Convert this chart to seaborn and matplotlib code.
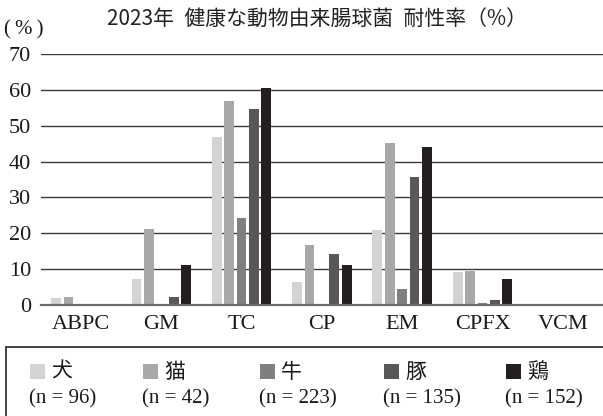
import matplotlib
matplotlib.use("Agg")
import matplotlib.pyplot as plt
from matplotlib.patches import Rectangle
from matplotlib.ticker import FixedLocator
import pandas as pd
import seaborn as sns

# Resistance rates (%) of enterococci from healthy animals, 2023
drugs = ["ABPC", "GM", "TC", "CP", "EM", "CPFX", "VCM"]
animals = ["犬", "猫", "牛", "豚", "鶏"]
sample_sizes = [96, 42, 223, 135, 152]
dog = [2.0, 7.3, 46.8, 6.3, 20.8, 9.3, 0.0]
cat = [2.3, 21.3, 57.0, 16.7, 45.2, 9.5, 0.0]
cattle = [0.0, 0.0, 24.2, 0.0, 4.4, 0.5, 0.0]
pig = [0.0, 2.2, 54.7, 14.2, 35.6, 1.4, 0.0]
chicken = [0.0, 11.2, 60.5, 11.2, 44.1, 7.2, 0.0]
colors = ["#d3d3d5", "#a7a8aa", "#7f7f81", "#58585a", "#231f20"]
yticks = [0, 10, 20, 30, 40, 50, 60, 70]
title = "2023年\u2002健康な動物由来腸球菌\u2002耐性率（%）"

series = [dog, cat, cattle, pig, chicken]
df = pd.DataFrame(
    [(d, a, v) for a, vals in zip(animals, series) for d, v in zip(drugs, vals)],
    columns=["drug", "animal", "rate"],
)

sns.set_theme(style="white")
plt.rcParams["font.family"] = ["Liberation Serif", "Noto Sans CJK JP"]
jp = ["Noto Sans CJK JP", "DejaVu Sans"]
serif = ["Liberation Serif", "DejaVu Serif"]

fig = plt.figure(figsize=(6.03, 4.16), dpi=100)
ax = fig.add_axes([40.7 / 603, 111 / 416, 1 - 40.7 / 603, 251 / 416])

sns.barplot(
    data=df, x="drug", y="rate", hue="animal", order=drugs, hue_order=animals,
    palette=colors, width=0.77, gap=0.2, linewidth=0, saturation=1,
    legend=False, ax=ax,
)

ax.set_ylim(0, 70)
ax.set_xlim(-0.5, len(drugs) - 0.5)
ax.set_yticks(yticks)
ax.set_axisbelow(True)
ax.yaxis.grid(True, color="#3a3a3a", linewidth=1.0)
ax.xaxis.grid(False)
for side in ["left", "right", "top"]:
    ax.spines[side].set_visible(False)
ax.spines["bottom"].set_color("#6e6e6e")
ax.spines["bottom"].set_linewidth(1.6)
ax.set_xlabel("")
ax.set_ylabel("")

ax.tick_params(axis="y", length=0, pad=7, labelsize=16, labelcolor="#1a1a1a")
ax.tick_params(axis="x", which="major", length=0, pad=7, labelsize=16,
               labelcolor="#1a1a1a")
# short upward marks separating the drug groups
ax.xaxis.set_minor_locator(FixedLocator([i - 0.5 for i in range(len(drugs) + 1)]))
ax.tick_params(axis="x", which="minor", direction="in", length=6, width=1.1,
               color="#333333")

fig.text(317 / 603, 1 - 19 / 416, title, ha="center", va="center",
         fontsize=15, family=jp, color="#222222")
fig.text(24 / 603, 1 - 30 / 416, "(\u2009%\u2009)", ha="center", va="center",
         fontsize=15, family=serif, color="#1a1a1a")

# legend box
fig.add_artist(Rectangle((6 / 603, -0.05), 1.1, (416 - 347) / 416 + 0.05,
                         transform=fig.transFigure, fill=False,
                         edgecolor="#222222", linewidth=1.2, clip_on=False))
xs = [30, 143, 260, 384, 506]
for x, name, n, c in zip(xs, animals, sample_sizes, colors):
    fig.add_artist(Rectangle((x / 603, (416 - 379) / 416), 15 / 603, 15 / 416,
                             transform=fig.transFigure, facecolor=c,
                             edgecolor="none"))
    fig.text((x + 21) / 603, 1 - 372 / 416, name, ha="left", va="center",
             fontsize=15, family=jp, color="#1a1a1a")
    fig.text((x - 1) / 603, 1 - 399 / 416, f"(n = {n})", ha="left",
             va="center", fontsize=15, family=serif, color="#1a1a1a")

fig.savefig("out.png", dpi=100)
